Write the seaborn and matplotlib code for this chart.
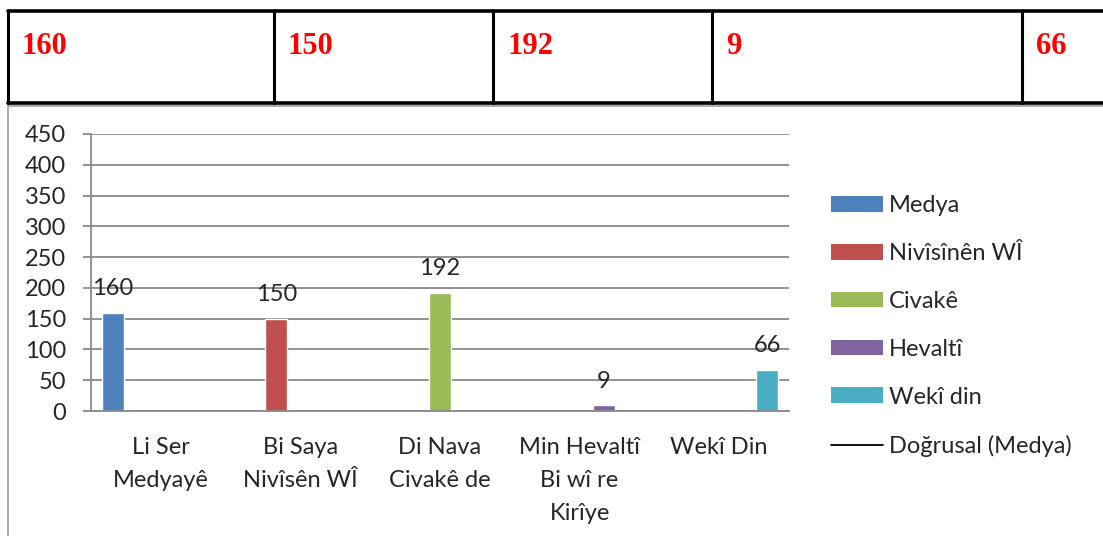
import pandas as pd
import matplotlib.pyplot as plt
import seaborn as sns
from matplotlib.patches import Patch, Rectangle
from matplotlib.lines import Line2D

categories = ["Li Ser\nMedyayê", "Bi Saya\nNivîsên WÎ", "Di Nava\nCivakê de",
              "Min Hevaltî\nBi wî re\nKirîye", "Wekî Din"]
series = ["Medya", "Nivîsînên WÎ", "Civakê", "Hevaltî", "Wekî din"]
counts = [160, 150, 192, 9, 66]
colors = ["#4F81BD", "#C0504D", "#9BBB59", "#8064A2", "#4BACC6"]
trend_label = "Doğrusal (Medya)"

df = pd.DataFrame({"category": categories, "series": series, "count": counts})

sns.set_style("white")
plt.rcParams["font.family"] = ["Lato", "DejaVu Sans"]

W, H = 1103, 536
fig = plt.figure(figsize=(W / 100, H / 100), dpi=100)

def fx(px):
    return px / W

def fy(py):
    return 1 - py / H

# table row on top
col_edges = [8, 274, 493, 712, 1022]
for x in col_edges:
    fig.add_artist(Line2D([fx(x), fx(x)], [fy(11), fy(103)], color="black", lw=2.2))
fig.add_artist(Line2D([fx(8), 1], [fy(11), fy(11)], color="black", lw=2.6))
fig.add_artist(Line2D([fx(8), 1], [fy(103), fy(103)], color="black", lw=2.6))
for x, v in zip(col_edges, counts):
    fig.text(fx(x + 14), fy(47), str(v), color="red", fontsize=22, fontweight="bold",
             family="Liberation Serif", va="center", ha="left")

# chart frame
fig.add_artist(Rectangle((fx(8), fy(700)), 1.2, fy(106) - fy(700), transform=fig.transFigure,
                         fill=False, edgecolor="#A6A6A6", lw=1.3))

ax = fig.add_axes([fx(91), fy(411), fx(789) - fx(91), fy(134) - fy(411)])
sns.barplot(data=df, x="category", y="count", hue="series", order=categories,
            hue_order=series, palette=colors, width=0.86, gap=0.08, dodge=True,
            legend=False, ax=ax, saturation=1)

for cont in ax.containers:
    ax.bar_label(cont, fmt="%d", padding=10, fontsize=17)

grid_c = "#898989"
ax.set_ylim(0, 450)
ax.set_yticks(range(0, 451, 50))
ax.set_xlim(-0.5, len(categories) - 0.5)
ax.yaxis.grid(True, color=grid_c, lw=1.3)
ax.set_axisbelow(True)
for s in ["top", "right"]:
    ax.spines[s].set_visible(False)
for s in ["left", "bottom"]:
    ax.spines[s].set_color(grid_c)
    ax.spines[s].set_linewidth(1.3)

ax.set_xticks([i - 0.5 for i in range(len(categories) + 1)], minor=True)
ax.tick_params(axis="x", which="minor", length=6, width=1.3, color=grid_c, direction="out")
ax.tick_params(axis="x", which="major", length=0, pad=19, labelsize=17)
ax.tick_params(axis="y", length=6, width=1.3, color=grid_c, pad=12, labelsize=17, left=True)
for lbl in ax.get_xticklabels():
    lbl.set_linespacing(1.68)
ax.set_xlabel("")
ax.set_ylabel("")

handles = [Patch(facecolor=c, edgecolor="none") for c in colors]
handles.append(Line2D([], [], color="black", lw=1.3))
fig.legend(handles, series + [trend_label], loc="upper left",
           bbox_to_anchor=(fx(831), fy(195)), frameon=False, fontsize=17,
           handlelength=2.2, handleheight=0.65, handletextpad=0.25,
           labelspacing=1.14, borderpad=0, borderaxespad=0)

fig.savefig("out.png", dpi=100)
